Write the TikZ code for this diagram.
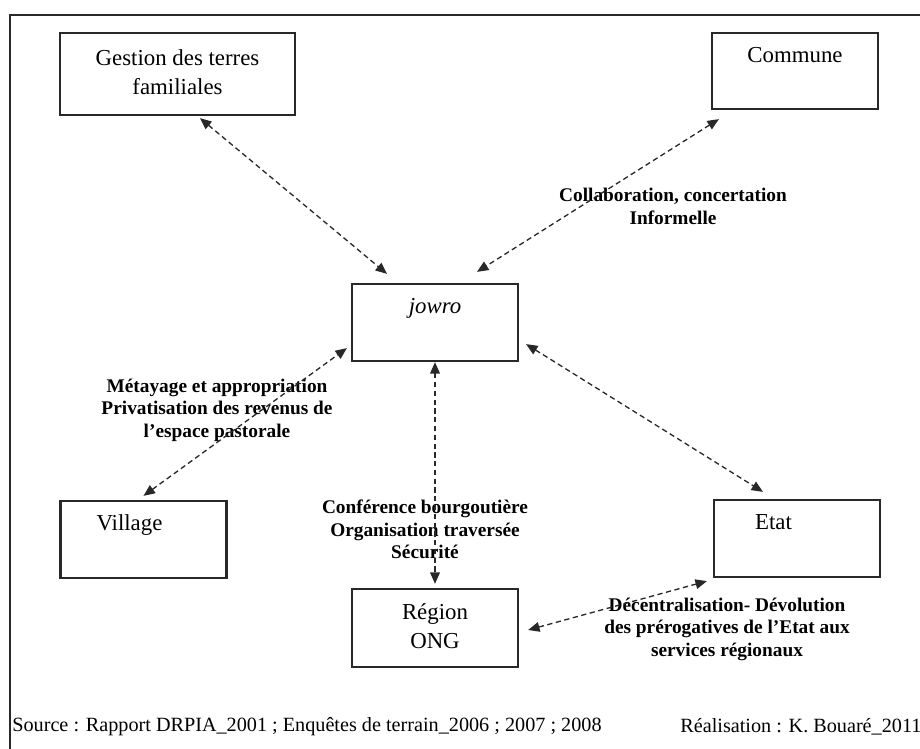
\documentclass[tikz,border=0pt]{standalone}
\usepackage{fontspec}
\setmainfont{Liberation Serif}
\usetikzlibrary{arrows.meta}
\definecolor{traitgris}{RGB}{40,40,40}

\begin{document}
\begin{tikzpicture}[x=0.02cm, y=-0.02cm,
  every node/.style={font=\fontsize{13}{17}\selectfont},
  boite/.style={draw=traitgris, line width=1.3pt, minimum width=3.32cm, minimum height=1.54cm, align=center, inner sep=0pt},
  lien/.style={font=\fontsize{11}{12.8}\selectfont\bfseries, align=center},
  fleche/.style={{Triangle[length=6.5pt,width=5.5pt]}-{Triangle[length=6.5pt,width=5.5pt]}, dash pattern=on 3pt off 2pt, line width=0.75pt, traitgris},
  source/.style={font=\fontsize{11.5}{14}\selectfont, anchor=west, inner sep=0pt}]
  \useasboundingbox (0,0) rectangle (920,749);
  \draw[traitgris, line width=1pt] (10,15) rectangle (940,770);

  \node[boite, minimum width=4.7cm, minimum height=1.64cm] (gestion) at (177.5,74) {\strut Gestion des terres\\\strut familiales};
  \node[boite, minimum height=1.52cm] (commune) at (795,71) {\strut Commune\\\strut};
  \node[boite] (jowro) at (435,322.5) {\strut\textit{jowro}\\\strut};
  \node[boite] (village) at (143.5,539.5) {\strut Village\hspace*{0.56cm}\\\strut};
  \node[boite] (etat) at (797,538.5) {\strut Etat\hspace*{0.94cm}\\\strut};
  \node[boite, minimum height=1.56cm] (region) at (435,628) {\strut Région\\\strut ONG};

  \node[lien] (collab) at (673,206.5) {Collaboration, concertation\\Informelle};
  \node[lien] (metayage) at (217,410) {Métayage et appropriation\\Privatisation des revenus de\\l'espace pastorale};
  \node[lien] (conference) at (425,529.5) {Conférence bourgoutière\\Organisation traversée\\Sécurité};
  \node[lien] (decentral) at (727,629) {Décentralisation- Dévolution\\des prérogatives de l'Etat aux\\services régionaux};

  \draw[fleche] ([xshift=0.45cm,yshift=-0.04cm]gestion.south) -- ([xshift=-0.96cm,yshift=0.18cm]jowro.north);
  \draw[fleche] ([xshift=0.16cm,yshift=-0.18cm]commune.south west) -- ([xshift=0.84cm,yshift=0.22cm]jowro.north);
  \draw[fleche] ([yshift=0.08cm]village.north) -- ([xshift=-0.08cm,yshift=0.28cm]jowro.south west);
  \draw[fleche] (jowro.south) -- ([yshift=0.08cm]region.north);
  \draw[fleche] ([xshift=0.14cm,yshift=0.36cm]jowro.south east) -- ([xshift=-0.68cm,yshift=0.14cm]etat.north);
  \draw[fleche] ([xshift=0.18cm,yshift=-0.04cm]region.east) -- ([xshift=-0.12cm,yshift=-0.06cm]etat.south west);

  \node[source] (source) at (12,727) {Source : Rapport DRPIA\_2001 ; Enquêtes de terrain\_2006 ; 2007 ; 2008};
  \node[source] (realisation) at (680,727) {Réalisation : K. Bouaré\_2011};
\end{tikzpicture}
\end{document}
